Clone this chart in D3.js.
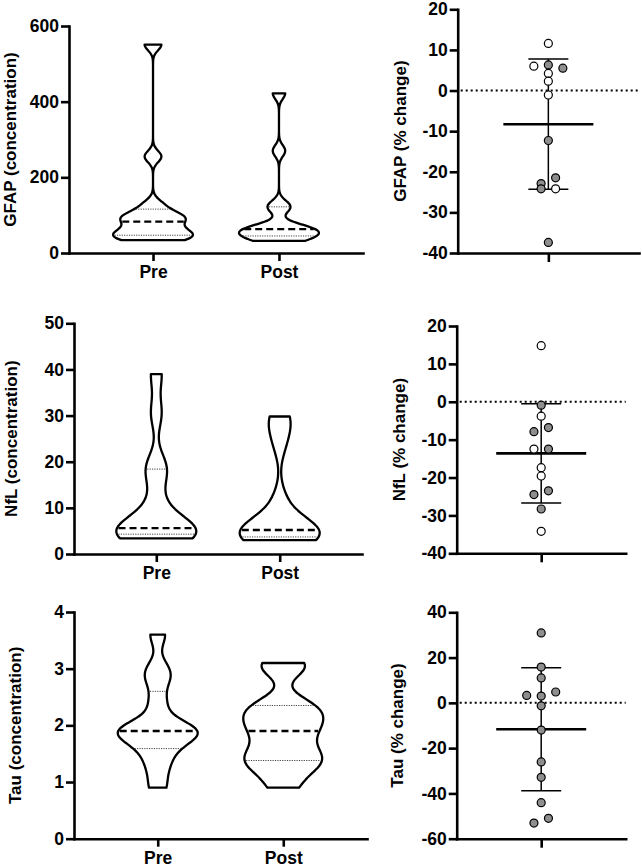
<!DOCTYPE html>
<html>
<head>
<meta charset="utf-8">
<script src="https://cdn.jsdelivr.net/npm/d3@7"></script>
<style>
  body { margin: 0; background: #fff; }
  text { font-family: "Liberation Sans", Arial, sans-serif; font-weight: bold; fill: #000; }
</style>
</head>
<body>
<div id="chart"></div>
<script>
// ---- data ----
const categories = ["Pre", "Post"];

// raw concentrations per subject (n = 13)
const gfapPre  = [34, 37, 43, 51, 57, 66, 83, 90, 97, 104, 128, 255, 551];
const gfapPost = [32, 35, 40, 50, 53, 57, 63, 66, 72, 116, 128, 270, 422];
const nflPre   = [3.4, 3.7, 4.0, 4.6, 5.0, 5.3, 5.6, 7.2, 11.5, 17.6, 19.2, 30.5, 39.0];
const nflPost  = [3.0, 3.2, 3.5, 3.9, 4.3, 4.8, 5.2, 5.8, 7.2, 11.6, 24.0, 28.5, 29.8];
const tauPre   = [0.9, 1.25, 1.5, 1.68, 1.82, 1.87, 1.9, 1.93, 2.0, 2.4, 2.8, 3.0, 3.6];
const tauPost  = [0.9, 1.2, 1.3, 1.46, 1.52, 1.75, 1.9, 2.05, 2.15, 2.3, 2.4, 3.0, 3.1];

// percent change per subject, with group (w = open, g = filled)
const gfapChange = [11.6, 6.0, 6.3, 5.5, 4.2, 2.3, -1.1, -12.3, -22.9, -21.5, -24.2, -24.2, -37.4];
const gfapGroup  = ["w", "w", "g", "g", "w", "w", "w", "g", "g", "g", "g", "w", "g"];
const nflChange  = [14.8, -0.9, -3.8, -7.9, -6.8, -12.5, -12.5, -17.4, -19.6, -24.5, -23.5, -28.3, -34.2];
const nflGroup   = ["w", "g", "w", "g", "g", "w", "g", "w", "w", "g", "g", "g", "w"];
const tauChange  = [30.9, 15.8, 11.0, 3.3, 3.0, 4.8, -1.3, -12.0, -26.1, -32.9, -44.1, -53.1, -51.0];
const tauGroup   = ["g", "g", "g", "g", "g", "g", "g", "g", "g", "g", "g", "g", "g"];

// axis ticks
const gfapConcTicks = [0, 200, 400, 600];
const nflConcTicks  = [0, 10, 20, 30, 40, 50];
const tauConcTicks  = [0, 1, 2, 3, 4];
const gfapPctTicks  = [-40, -30, -20, -10, 0, 10, 20];
const nflPctTicks   = [-40, -30, -20, -10, 0, 10, 20];
const tauPctTicks   = [-60, -40, -20, 0, 20, 40];

// ---- layout ----
const W = 642, H = 868;
const svg = d3.select("#chart").append("svg")
    .attr("width", W)
    .attr("height", H);

const violinPanels = [
    { pre: gfapPre, post: gfapPost, ticks: gfapConcTicks, label: "GFAP (concentration)", bw: 15,
      x0: 69, x1: 363, yTop: 26, yBot: 253, labelX: 10 },
    { pre: nflPre, post: nflPost, ticks: nflConcTicks, label: "NfL (concentration)", bw: 3.2,
      x0: 74, x1: 362, yTop: 323.3, yBot: 554, labelX: 11 },
    { pre: tauPre, post: tauPost, ticks: tauConcTicks, label: "Tau (concentration)", bw: 0.19,
      x0: 74, x1: 367, yTop: 612, yBot: 838.7, labelX: 15.5 }
];

const scatterPanels = [
    { values: gfapChange, groups: gfapGroup, ticks: gfapPctTicks, label: "GFAP (% change)",
      x0: 457.7, x1: 639, yTop: 9.3, yBot: 253, labelX: 400 },
    { values: nflChange, groups: nflGroup, ticks: nflPctTicks, label: "NfL (% change)",
      x0: 456.7, x1: 625.7, yTop: 326, yBot: 553.3, labelX: 399 },
    { values: tauChange, groups: tauGroup, ticks: tauPctTicks, label: "Tau (% change)",
      x0: 456.7, x1: 625.7, yTop: 612.3, yBot: 838.7, labelX: 397.5 }
];

const FS_TICK = 17.5;     // tick label size
const FS_LABEL = 17;      // axis title size
const AXIS_W = 2.6;       // axis line width
const MAX_HALF = 40;      // violin max half width in px

// GraphPad style percentile ((n+1)p)
function pct(arr, p) {
    const s = arr.slice().sort(d3.ascending);
    const h = (s.length + 1) * p - 1;
    const lo = Math.max(0, Math.min(s.length - 1, Math.floor(h)));
    const hi = Math.min(s.length - 1, lo + 1);
    return s[lo] + (h - lo) * (s[hi] - s[lo]);
}

function kde(values, bw) {
    return v => d3.sum(values, x => Math.exp(-0.5 * ((v - x) / bw) ** 2));
}

function styleAxis(g) {
    g.select(".domain").attr("stroke", "#000").attr("stroke-width", AXIS_W).attr("stroke-linecap", "square");
    g.selectAll(".tick line").attr("stroke", "#000").attr("stroke-width", AXIS_W);
    g.selectAll(".tick text").attr("font-size", FS_TICK).attr("font-family", null).attr("fill", "#000");
}

function yLabel(p) {
    svg.append("text")
        .attr("transform", `translate(${p.labelX},${(p.yTop + p.yBot) / 2}) rotate(-90)`)
        .attr("text-anchor", "middle")
        .attr("dominant-baseline", "central")
        .attr("font-size", FS_LABEL)
        .text(p.label);
}

// ---- violins ----
violinPanels.forEach(p => {
    const y = d3.scaleLinear()
        .domain(d3.extent(p.ticks))
        .range([p.yBot, p.yTop]);
    const x = d3.scalePoint()
        .domain(categories)
        .range([p.x0, p.x1])
        .padding(0.667);

    const g = svg.append("g");

    [p.pre, p.post].forEach((vals, i) => {
        const cx = x(categories[i]);
        const dens = kde(vals, p.bw);
        const [lo, hi] = d3.extent(vals);
        const grid = d3.range(0, 161).map(k => lo + (hi - lo) * k / 160);
        const pts = grid.map(v => ({ v, d: dens(v) }));
        const w = d3.scaleLinear()
            .domain([0, d3.max(pts, d => d.d)])
            .range([0, MAX_HALF]);

        const area = d3.area()
            .y(d => y(d.v))
            .x0(d => cx - w(d.d))
            .x1(d => cx + w(d.d))
            .curve(d3.curveBasis);

        g.append("path")
            .datum(pts)
            .attr("d", area)
            .attr("fill", "#fff")
            .attr("stroke", "#000")
            .attr("stroke-width", 2.3)
            .attr("stroke-linejoin", "round");

        // quartiles (dotted) and median (dashed)
        [0.25, 0.75].forEach(q => {
            const v = pct(vals, q);
            const hw = w(dens(v)) - 1.5;
            g.append("line")
                .attr("x1", cx - hw).attr("x2", cx + hw)
                .attr("y1", y(v)).attr("y2", y(v))
                .attr("stroke", "#444")
                .attr("stroke-width", 1)
                .attr("stroke-dasharray", "1.2,1.2");
        });
        const med = pct(vals, 0.5);
        const mw = w(dens(med)) - 1.5;
        g.append("line")
            .attr("x1", cx - mw).attr("x2", cx + mw)
            .attr("y1", y(med)).attr("y2", y(med))
            .attr("stroke", "#000")
            .attr("stroke-width", 2.3)
            .attr("stroke-dasharray", "7,4");
    });

    svg.append("g")
        .attr("transform", `translate(${p.x0},0)`)
        .call(d3.axisLeft(y).tickValues(p.ticks).tickFormat(d => String(d)).tickSize(8).tickSizeOuter(0).tickPadding(2))
        .call(styleAxis);

    svg.append("g")
        .attr("transform", `translate(0,${p.yBot})`)
        .call(d3.axisBottom(x).tickSize(8).tickSizeOuter(0).tickPadding(5))
        .call(styleAxis);

    yLabel(p);
});

// ---- scatter (% change) ----
const COL = 14.5;   // lane spacing in px
const ROW_TOL = 6.5;

scatterPanels.forEach(p => {
    const y = d3.scaleLinear()
        .domain(d3.extent(p.ticks))
        .range([p.yBot, p.yTop]);
    const x = d3.scalePoint()
        .domain(["% change"])
        .range([p.x0, p.x1])
        .padding(0.5);
    const cx = x("% change");

    const fill = d3.scaleOrdinal().domain(["w", "g"]).range(["#ffffff", "#8e8e8e"]);

    // group points into rows of similar y, spread each row around the centre
    const pts = p.values.map((v, i) => ({ v, i, grp: p.groups[i], py: y(v) }));
    const sorted = pts.slice().sort((a, b) => a.py - b.py);
    const rows = [];
    sorted.forEach(d => {
        const row = rows[rows.length - 1];
        if (row && d.py - row[0].py <= ROW_TOL) row.push(d);
        else rows.push([d]);
    });
    rows.forEach(row => {
        row.sort((a, b) => a.i - b.i);
        row.forEach((d, k) => { d.dx = (k - (row.length - 1) / 2) * COL; });
    });

    const mean = d3.mean(p.values);
    const sd = d3.deviation(p.values);

    const g = svg.append("g");

    // zero reference line
    g.append("line")
        .attr("x1", p.x0 + 3).attr("x2", p.x1)
        .attr("y1", y(0)).attr("y2", y(0))
        .attr("stroke", "#000")
        .attr("stroke-width", 2)
        .attr("stroke-dasharray", "2,3");

    // SD whisker
    g.append("line")
        .attr("x1", cx).attr("x2", cx)
        .attr("y1", y(mean + sd)).attr("y2", y(mean - sd))
        .attr("stroke", "#000").attr("stroke-width", 1.5);
    [mean + sd, mean - sd].forEach(v => {
        g.append("line")
            .attr("x1", cx - 20).attr("x2", cx + 20)
            .attr("y1", y(v)).attr("y2", y(v))
            .attr("stroke", "#000").attr("stroke-width", 1.5);
    });
    // mean
    g.append("line")
        .attr("x1", cx - 45).attr("x2", cx + 45)
        .attr("y1", y(mean)).attr("y2", y(mean))
        .attr("stroke", "#000").attr("stroke-width", 2.6);

    g.selectAll("circle")
        .data(pts)
        .enter()
        .append("circle")
        .attr("cx", d => cx + d.dx)
        .attr("cy", d => d.py)
        .attr("r", 4)
        .attr("fill", d => fill(d.grp))
        .attr("stroke", "#000")
        .attr("stroke-width", 1.2);

    svg.append("g")
        .attr("transform", `translate(${p.x0},0)`)
        .call(d3.axisLeft(y).tickValues(p.ticks).tickFormat(d => String(d)).tickSize(8).tickSizeOuter(0).tickPadding(2))
        .call(styleAxis);

    svg.append("g")
        .attr("transform", `translate(0,${p.yBot})`)
        .call(d3.axisBottom(x).tickSize(9).tickSizeOuter(0).tickFormat(""))
        .call(styleAxis);

    yLabel(p);
});
</script>
</body>
</html>
